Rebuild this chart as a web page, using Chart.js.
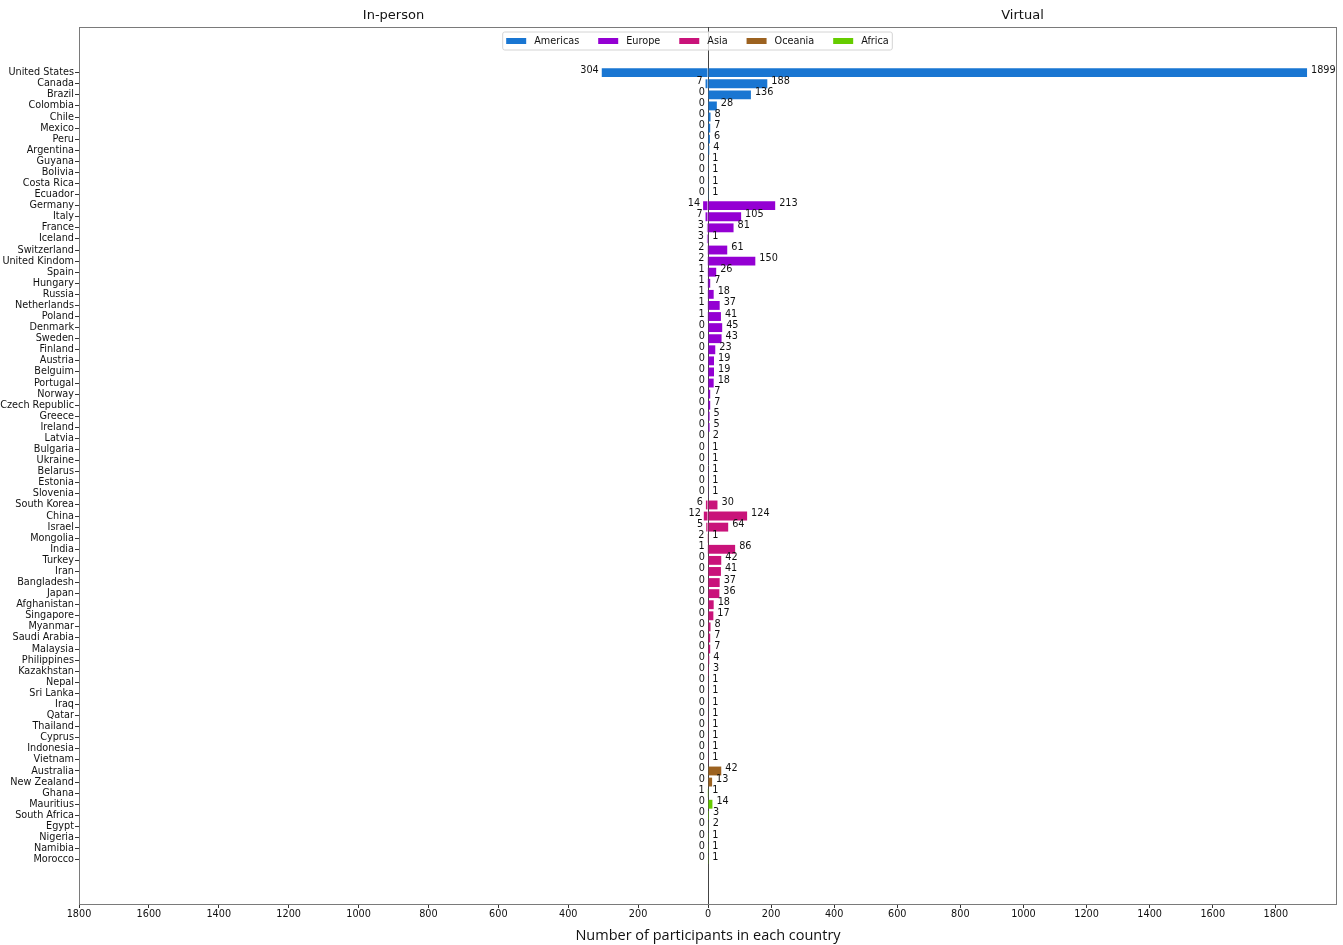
<!DOCTYPE html>
<html>
<head>
<meta charset="utf-8">
<script src="https://cdn.jsdelivr.net/npm/chart.js@4/dist/chart.umd.min.js"></script>
<style>
  html, body { margin: 0; padding: 0; background: #ffffff; }
  #wrap { width: 1343px; height: 945px; }
</style>
</head>
<body>
<div id="wrap"><canvas id="chart" width="1343" height="945"></canvas></div>
<script>
// Participants per country, grouped by region (top to bottom)
const countries = [
  'United States', 'Canada', 'Brazil', 'Colombia', 'Chile', 'Mexico', 'Peru', 'Argentina',
  'Guyana', 'Bolivia', 'Costa Rica', 'Ecuador',
  'Germany', 'Italy', 'France', 'Iceland', 'Switzerland', 'United Kindom', 'Spain', 'Hungary',
  'Russia', 'Netherlands', 'Poland', 'Denmark', 'Sweden', 'Finland', 'Austria', 'Belguim',
  'Portugal', 'Norway', 'Czech Republic', 'Greece', 'Ireland', 'Latvia', 'Bulgaria', 'Ukraine',
  'Belarus', 'Estonia', 'Slovenia',
  'South Korea', 'China', 'Israel', 'Mongolia', 'India', 'Turkey', 'Iran', 'Bangladesh', 'Japan',
  'Afghanistan', 'Singapore', 'Myanmar', 'Saudi Arabia', 'Malaysia', 'Philippines', 'Kazakhstan',
  'Nepal', 'Sri Lanka', 'Iraq', 'Qatar', 'Thailand', 'Cyprus', 'Indonesia', 'Vietnam',
  'Australia', 'New Zealand',
  'Ghana', 'Mauritius', 'South Africa', 'Egypt', 'Nigeria', 'Namibia', 'Morocco'
];

const inPerson = [
  304, 7, 0, 0, 0, 0, 0, 0, 0, 0, 0, 0,
  14, 7, 3, 3, 2, 2, 1, 1, 1, 1, 1, 0, 0, 0, 0, 0, 0, 0, 0, 0, 0, 0, 0, 0, 0, 0, 0,
  6, 12, 5, 2, 1, 0, 0, 0, 0, 0, 0, 0, 0, 0, 0, 0, 0, 0, 0, 0, 0, 0, 0, 0,
  0, 0,
  1, 0, 0, 0, 0, 0, 0
];

const virtual = [
  1899, 188, 136, 28, 8, 7, 6, 4, 1, 1, 1, 1,
  213, 105, 81, 1, 61, 150, 26, 7, 18, 37, 41, 45, 43, 23, 19, 19, 18, 7, 7, 5, 5, 2, 1, 1, 1, 1, 1,
  30, 124, 64, 1, 86, 42, 41, 37, 36, 18, 17, 8, 7, 7, 4, 3, 1, 1, 1, 1, 1, 1, 1, 1,
  42, 13,
  1, 14, 3, 2, 1, 1, 1
];

const regions = ['Americas', 'Europe', 'Asia', 'Oceania', 'Africa'];
const regionSizes = [12, 27, 24, 2, 7];
const regionColors = ['#1976D2', '#9400D3', '#C9137A', '#9C6220', '#66CC00'];

const xTickValues = [0, 200, 400, 600, 800, 1000, 1200, 1400, 1600, 1800];

const FONT = "'DejaVu Sans', 'Noto Sans', sans-serif";
const TITLE_FONT = "'Open Sans', 'Noto Sans', sans-serif";
const SMALL = 9.7;
const TEXT = '#111111';

// region index of every row
const rowRegion = [];
regionSizes.forEach((n, r) => { for (let k = 0; k < n; k++) rowRegion.push(r); });
const rowColors = rowRegion.map(r => regionColors[r]);

const leftMax = 1800;
const rightMax = Math.max(...virtual) * 1.05;

Chart.defaults.font.family = FONT;
Chart.defaults.font.size = SMALL;
Chart.defaults.color = TEXT;

// frame around the plotting area plus the shared zero line
const framePlugin = {
  id: 'frame',
  beforeDatasetsDraw(chart) {
    const { ctx, chartArea: a } = chart;
    const zero = Math.round(chart.scales.xR.getPixelForValue(0)) + 0.5;
    ctx.save();
    ctx.lineWidth = 1;
    ctx.strokeStyle = '#7a7a7a';
    ctx.strokeRect(Math.round(a.left) + 0.5, Math.round(a.top) + 0.5,
                   Math.round(a.right - a.left) - 1, Math.round(a.bottom - a.top));
    ctx.strokeStyle = '#444444';
    ctx.beginPath();
    ctx.moveTo(zero, a.top);
    ctx.lineTo(zero, a.bottom);
    ctx.stroke();
    ctx.restore();
  }
};

// value printed at the end of every bar
const valueLabels = {
  id: 'valueLabels',
  afterDatasetsDraw(chart) {
    const ctx = chart.ctx;
    ctx.save();
    ctx.font = `${SMALL}px ${FONT}`;
    ctx.fillStyle = TEXT;
    ctx.textBaseline = 'middle';
    chart.data.datasets.forEach((ds, di) => {
      const meta = chart.getDatasetMeta(di);
      const onLeft = ds.xAxisID === 'xL';
      ctx.textAlign = onLeft ? 'right' : 'left';
      meta.data.forEach((bar, i) => {
        const v = ds.data[i].x;
        ctx.fillText(String(v), bar.x + (onLeft ? -3 : 4), bar.y - 2.5);
      });
    });
    ctx.restore();
  }
};

// region legend inside the top of the plot
const LEGEND_SHIFT = -10.5;
const regionLegend = {
  id: 'regionLegend',
  afterDraw(chart) {
    const { ctx, chartArea: a } = chart;
    ctx.save();
    ctx.font = `${SMALL}px ${FONT}`;
    const markW = 20, markH = 6, gapText = 8, gapItem = 19, padX = 3.5;
    const widths = regions.map(r => ctx.measureText(r).width);
    const total = widths.reduce((s, w) => s + markW + gapText + w, 0) + gapItem * (regions.length - 1);
    const cx = (a.left + a.right) / 2 + LEGEND_SHIFT;
    const boxTop = a.top + 5, boxH = 18;
    const cy = boxTop + boxH / 2;
    let x = cx - total / 2;
    ctx.beginPath();
    ctx.roundRect(x - padX, boxTop, total + 2 * padX, boxH, 2);
    ctx.fillStyle = 'rgba(255,255,255,0.8)';
    ctx.fill();
    ctx.strokeStyle = '#d4d4d4';
    ctx.lineWidth = 1;
    ctx.stroke();
    ctx.textBaseline = 'middle';
    ctx.textAlign = 'left';
    regions.forEach((r, i) => {
      ctx.fillStyle = regionColors[i];
      ctx.fillRect(x, cy - markH / 2, markW, markH);
      ctx.fillStyle = TEXT;
      ctx.fillText(r, x + markW + gapText, cy);
      x += markW + gapText + widths[i] + gapItem;
    });
    ctx.restore();
  }
};

const barCommon = {
  backgroundColor: rowColors,
  borderWidth: 0,
  grouped: false,
  barPercentage: 0.8,
  categoryPercentage: 1
};

const setXTicks = scale => { scale.ticks = xTickValues.map(v => ({ value: v })); };

new Chart(document.getElementById('chart'), {
  type: 'bar',
  data: {
    datasets: [
      Object.assign({
        label: 'In-person',
        data: inPerson.map((v, i) => ({ x: v, y: i })),
        xAxisID: 'xL', yAxisID: 'y'
      }, barCommon),
      Object.assign({
        label: 'Virtual',
        data: virtual.map((v, i) => ({ x: v, y: i })),
        xAxisID: 'xR', yAxisID: 'y'
      }, barCommon)
    ]
  },
  options: {
    indexAxis: 'y',
    responsive: false,
    animation: false,
    devicePixelRatio: 1,
    layout: { padding: { left: 0, right: 6, top: 0, bottom: 0 } },
    plugins: {
      legend: { display: false },
      tooltip: { enabled: false },
      title: {
        display: true,
        text: 'Number of participants in each country',
        position: 'bottom',
        fullSize: false,
        color: TEXT,
        font: { size: 14.5, weight: 'normal', family: TITLE_FONT },
        padding: { top: 4.8, bottom: 0.8 }
      }
    },
    scales: {
      y: {
        type: 'linear',
        position: 'left',
        reverse: true,
        offset: false,
        min: -4.12,
        max: countries.length + 3.0,
        afterBuildTicks: scale => {
          scale.ticks = countries.map((c, i) => ({ value: i }));
        },
        afterFit: scale => { scale.width = 79; },
        ticks: {
          autoSkip: false,
          padding: 1,
          font: { size: SMALL },
          callback: v => countries[v]
        },
        grid: { offset: false, drawOnChartArea: false, drawTicks: true, tickLength: 4, tickColor: '#333' },
        border: { display: false }
      },
      xL: {
        type: 'linear',
        axis: 'x',
        position: 'bottom',
        stack: 'bottom',
        reverse: true,
        min: 0,
        max: leftMax,
        afterBuildTicks: setXTicks,
        afterFit: scale => { scale.height = 18; },
        ticks: { padding: 1, maxRotation: 0, font: { size: SMALL }, callback: v => v === 0 ? '' : String(v) },
        grid: { drawOnChartArea: false, drawTicks: true, tickLength: 4, tickColor: '#333' },
        border: { display: false }
      },
      xR: {
        type: 'linear',
        axis: 'x',
        position: 'bottom',
        stack: 'bottom',
        min: 0,
        max: rightMax,
        afterBuildTicks: setXTicks,
        afterFit: scale => { scale.height = 18; },
        ticks: { padding: 1, maxRotation: 0, font: { size: SMALL }, callback: v => String(v) },
        grid: { drawOnChartArea: false, drawTicks: true, tickLength: 4, tickColor: '#333' },
        border: { display: false }
      },
      // top headers; boxes in a top stack are laid out right to left in definition order
      tR: {
        type: 'linear',
        axis: 'x',
        position: 'top',
        stack: 'top',
        afterFit: scale => { scale.height = 27; },
        ticks: { display: false },
        grid: { display: false },
        border: { display: false },
        title: { display: true, text: 'Virtual', color: TEXT, font: { size: 13 }, padding: { top: 7.5, bottom: 0 } }
      },
      tL: {
        type: 'linear',
        axis: 'x',
        position: 'top',
        stack: 'top',
        afterFit: scale => { scale.height = 27; },
        ticks: { display: false },
        grid: { display: false },
        border: { display: false },
        title: { display: true, text: 'In-person', color: TEXT, font: { size: 13 }, padding: { top: 7.5, bottom: 0 } }
      }
    }
  },
  plugins: [framePlugin, valueLabels, regionLegend]
});
</script>
</body>
</html>
